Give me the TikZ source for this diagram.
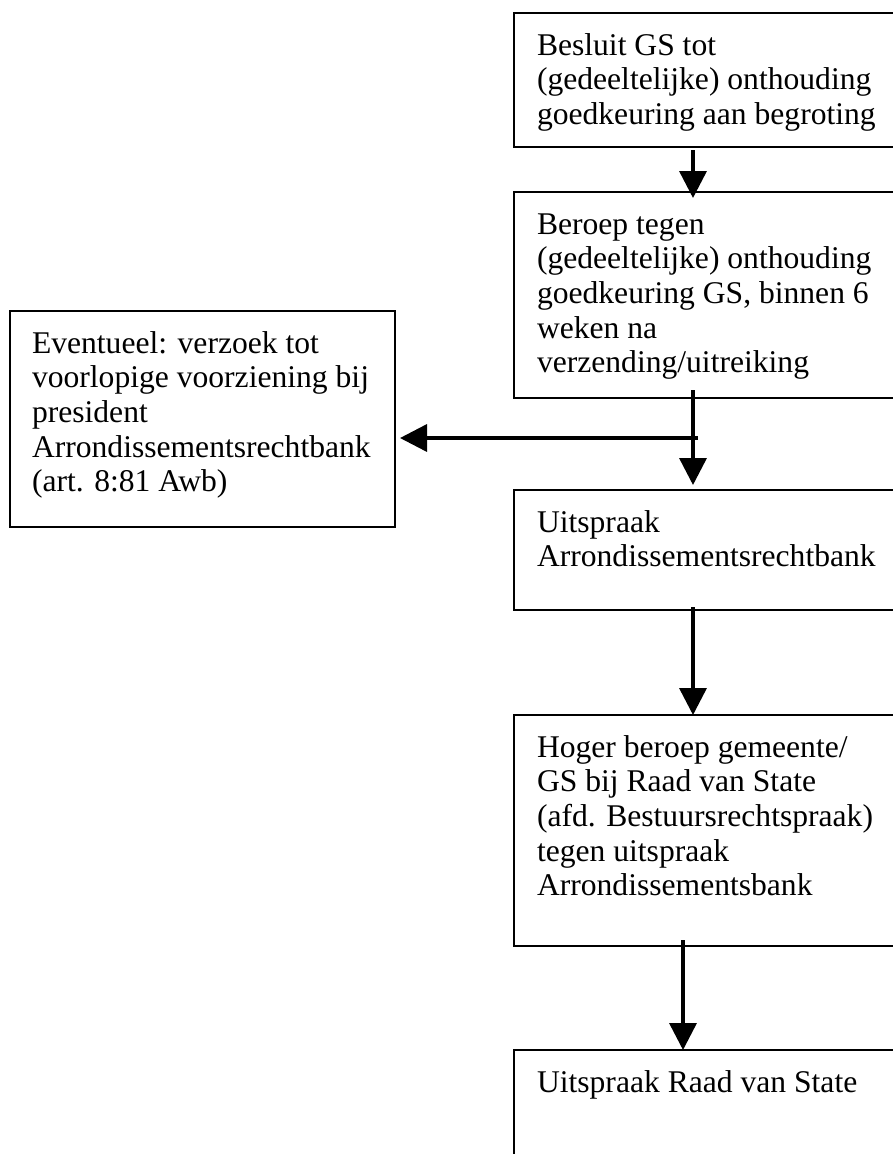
\documentclass[tikz,border=0pt]{standalone}
\usepackage{fontspec}
\setmainfont{Liberation Serif}
\usetikzlibrary{arrows.meta,calc}
\newcommand{\fstrut}{\rule{0pt}{25pt}}
\begin{document}
\begin{tikzpicture}[x=1pt,y=-1pt,
  box/.style={draw, line width=2.7pt, rectangle, inner sep=0pt, outer sep=0pt},
  txt/.style={anchor=north west, inner sep=0pt, outer sep=0pt, align=left,
              font=\fontsize{31.6}{34.7}\selectfont},
  arr/.style={line width=3.5pt, -{Triangle[length=27pt,width=27pt]}}]
\useasboundingbox (0,0) rectangle (893,1154);
\fill[white] (0,0) rectangle (893,1154);
\clip (0,0) rectangle (893,1154);
% boxes
\node[box, minimum width=396pt, minimum height=134pt] (b1) at (712,80) {};
\node[box, minimum width=396pt, minimum height=206pt] (b2) at (712,295) {};
\node[box, minimum width=396pt, minimum height=120pt] (b3) at (712,550) {};
\node[box, minimum width=396pt, minimum height=231pt] (b4) at (712,830.5) {};
\node[box, minimum width=396pt, minimum height=120pt] (b5) at (712,1110) {};
\node[box, minimum width=385pt, minimum height=216pt] (L) at (202.5,419) {};
% texts
\node[txt] (t1) at (537,30) {\fstrut Besluit GS tot\\(gedeeltelijke) onthouding\\goedkeuring aan begroting};
\node[txt] (t2) at (537,209) {\fstrut Beroep tegen\\(gedeeltelijke) onthouding\\goedkeuring GS, binnen 6\\weken na\\verzending/uitreiking};
\node[txt] (tL) at (32,328) {\fstrut Eventueel: verzoek tot\\voorlopige voorziening bij\\president\\Arrondissementsrechtbank\\(art. 8:81 Awb)};
\node[txt] (t3) at (537,507) {\fstrut Uitspraak\\Arrondissementsrechtbank};
\node[txt] (t4) at (537,732) {\fstrut Hoger beroep gemeente/\\GS bij Raad van State\\(afd. Bestuursrechtspraak)\\tegen uitspraak\\Arrondissementsbank};
\node[txt] (t5) at (537,1067) {\fstrut Uitspraak Raad van State};
% connectors
\coordinate (ax) at (693,0);
\coordinate (ax2) at (683,0);
\coordinate (h) at (698,438);
\draw[arr] ($(b1.south -| ax)+(0,3)$) -- ($(b2.north -| ax)+(0,6)$);
\draw[arr] ($(b2.south -| ax)+(0,-8)$) -- ($(b3.north -| ax)+(0,-5)$);
\draw[arr] (h) -- ($(L.east |- h)+(5,0)$);
\draw[arr] ($(b3.south -| ax)+(0,-3)$) -- (b4.north -| ax);
\draw[arr] ($(b4.south -| ax2)+(0,-6)$) -- (b5.north -| ax2);
\end{tikzpicture}
\end{document}
